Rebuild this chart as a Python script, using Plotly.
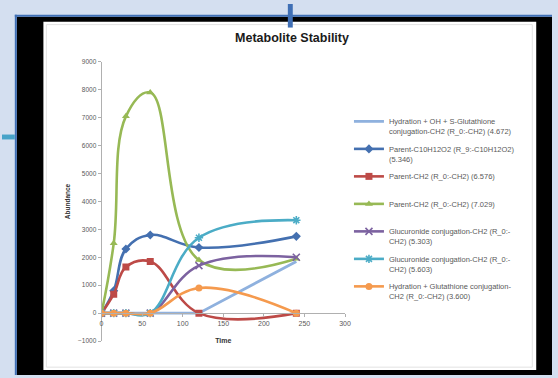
import plotly.graph_objects as go

# ---- data ----
time = [0, 15, 30, 60, 120, 240]
hyd_oh_gsh_4672 = [0, 0, 0, 0, 0, 1850]
parent_c10_5346 = [0, 800, 2300, 2800, 2350, 2750]
parent_ch2_6576 = [0, 680, 1650, 1850, 0, 0]
parent_ch2_7029 = [0, 2500, 7050, 7900, 1900, 1950]
gluc_5303 = [0, 0, 0, 0, 1700, 2000]
gluc_5603 = [0, 0, 0, 0, 2700, 3330]
hyd_gsh_3600 = [0, 0, 0, 0, 900, 0]

names = [
    "Hydration + OH + S-Glutathione<br>conjugation-CH2 (R_0:-CH2) (4.672)",
    "Parent-C10H12O2 (R_9:-C10H12O2)<br>(5.346)",
    "Parent-CH2 (R_0:-CH2) (6.576)<br> ",
    "Parent-CH2 (R_0:-CH2) (7.029)<br> ",
    "Glucuronide conjugation-CH2 (R_0:-<br>CH2) (5.303)",
    "Glucuronide conjugation-CH2 (R_0:-<br>CH2) (5.603)",
    "Hydration + Glutathione conjugation-<br>CH2 (R_0:-CH2) (3.600)",
]
series = [hyd_oh_gsh_4672, parent_c10_5346, parent_ch2_6576, parent_ch2_7029,
          gluc_5303, gluc_5603, hyd_gsh_3600]
colors = ["#8fb1de", "#4470b0", "#bd4a47", "#97b955", "#7c62a0", "#4bacc6", "#f59a4e"]
symbols = [None, "diamond", "square", "triangle-up", "x-thin-open", "asterisk-open", "circle"]

x_ticks = [0, 50, 100, 150, 200, 250, 300]
y_ticks = [-1000, 0, 1000, 2000, 3000, 4000, 5000, 6000, 7000, 8000, 9000]

W, H = 558, 378
fig = go.Figure()
for i, (nm, ys, c, s) in enumerate(zip(names, series, colors, symbols)):
    if s is None:
        fig.add_trace(go.Scatter(
            x=time, y=ys, name=nm, mode="lines",
            line=dict(color=c, width=2.8), legendgroup=f"g{i}"))
        continue
    marker = dict(color=c, size=7, symbol=s)
    if s in ("x-thin-open", "asterisk-open"):
        marker = dict(color=c, size=7, symbol=s, line=dict(color=c, width=1.6))
    fig.add_trace(go.Scatter(
        x=time, y=ys, name=nm, mode="lines+markers",
        line=dict(color=c, width=2.6, shape="spline", smoothing=1.15),
        marker=marker, legendgroup=f"g{i}",
    ))

# plot area in pixels
px_x0, px_x1 = 101, 348
px_ytop, px_ybot = 59, 343.4
ymin, ymax = -1000, 9000
yd0 = (H - px_ybot) / H
yd1 = (H - px_ytop) / H
xpos = yd0 + (0 - ymin) / (ymax - ymin) * (yd1 - yd0)

grey = "#595959"
axis_col = "#b0b0b0"

shapes = [
    dict(type="rect", xref="paper", yref="paper", x0=15 / W, x1=1, y0=0, y1=(H - 13) / H,
         fillcolor="#000000", line=dict(width=0), layer="below"),
    dict(type="rect", xref="paper", yref="paper", x0=13 / W, x1=15 / W, y0=0, y1=(H - 11) / H,
         fillcolor="#3f6fb5", line=dict(width=0), layer="below"),
    dict(type="rect", xref="paper", yref="paper", x0=13 / W, x1=1, y0=(H - 13) / H, y1=(H - 11) / H,
         fillcolor="#3f6fb5", line=dict(width=0), layer="below"),
    dict(type="rect", xref="paper", yref="paper", x0=42 / W, x1=542 / W, y0=(H - 373) / H, y1=(H - 18) / H,
         fillcolor="#ffffff", line=dict(width=0), layer="below"),
    dict(type="rect", xref="paper", yref="paper", x0=45 / W, x1=538 / W, y0=(H - 370) / H, y1=(H - 21) / H,
         fillcolor="rgba(0,0,0,0)", line=dict(width=1, color="#e2e2e2"), layer="below"),
    dict(type="rect", xref="paper", yref="paper", x0=290 / W, x1=295 / W, y0=(H - 24) / H, y1=1,
         fillcolor="#3f6fb5", line=dict(width=0), layer="below"),
    dict(type="rect", xref="paper", yref="paper", x0=0, x1=13 / W, y0=(H - 138) / H, y1=(H - 133) / H,
         fillcolor="#47a3c9", line=dict(width=0), layer="below"),
]

fig.update_layout(
    width=W, height=H, autosize=False,
    margin=dict(l=0, r=0, t=0, b=0),
    paper_bgcolor="#d4dff0",
    plot_bgcolor="rgba(0,0,0,0)",
    font=dict(family="Liberation Sans, Arial, sans-serif", color=grey),
    title=dict(text="<b>Metabolite Stability</b>", x=292 / W, xanchor="center",
               y=(H - 38) / H, yanchor="middle",
               font=dict(size=12.5, color="#1a1a1a")),
    xaxis=dict(domain=[px_x0 / W, px_x1 / W], range=[0, 300], tickvals=x_ticks,
               anchor="free", position=xpos, showgrid=False, zeroline=False,
               showline=True, linecolor=axis_col, linewidth=1,
               ticks="outside", ticklen=3, tickcolor=axis_col,
               tickfont=dict(size=7, color=grey),
               title=dict(text="<b>Time</b>", font=dict(size=7, color="#333333"), standoff=12)),
    yaxis=dict(domain=[yd0, yd1], range=[ymin, ymax], tickvals=y_ticks,
               showgrid=False, zeroline=False,
               showline=True, linecolor=axis_col, linewidth=1,
               ticks="outside", ticklen=3, tickcolor=axis_col,
               tickfont=dict(size=6.5, color=grey),
               title=dict(text="<b>Abundance</b>", font=dict(size=6.5, color="#333333"), standoff=6)),
    legend=dict(x=352 / W, xanchor="left", y=(H - 108) / H, yanchor="top",
                bgcolor="rgba(0,0,0,0)", font=dict(size=7.5, color=grey),
                valign="top", tracegroupgap=5, traceorder="grouped", itemwidth=30),
    shapes=shapes,
    showlegend=True,
)

fig.write_html("out.html")
